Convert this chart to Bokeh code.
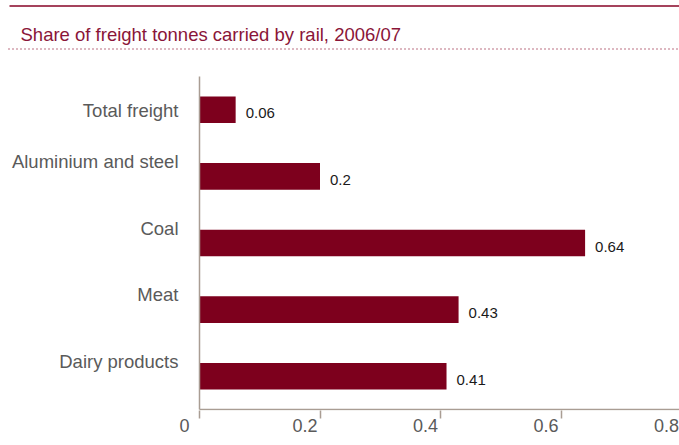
from bokeh.plotting import figure
from bokeh.models import Range1d, ColumnDataSource, FixedTicker, LinearAxis
from bokeh.core.properties import value
from bokeh.embed import file_html
from bokeh.resources import INLINE

# ---- data ----
title_text = "Share of freight tonnes carried by rail, 2006/07"
categories = ["Total freight", "Aluminium and steel", "Coal", "Meat", "Dairy products"]
shares = [0.06, 0.2, 0.64, 0.43, 0.41]
share_labels = ["0.06", "0.2", "0.64", "0.43", "0.41"]
tick_values = [0, 0.2, 0.4, 0.6, 0.8]
tick_labels = ["0", "0.2", "0.4", "0.6", "0.8"]

# ---- styles / layout constants ----
BAR = "#7d001d"
TITLE_C = "#8a1538"
RULE_C = "#a5435c"
AXIS_C = "#a99d93"
GREY = "#5a5a5a"
FONT = "Liberation Sans"
W, H = 679, 445
FRAME_H = 410            # frame height in px (bottom border holds x-axis)
PLOT_LEFT = 199          # px where x = 0
PX_PER_X = 602.5         # px per unit of share
CHART_TOP = 76           # px where the category band starts
BASE_Y = 409             # px of the x baseline
cat_label_dy = [1, -15, -15, -15, -15]   # px nudges of category labels
LABEL_SHIFT = 15         # px tick labels sit left of their ticks

n = len(categories)
x_start = -PLOT_LEFT / PX_PER_X
x_end = x_start + W / PX_PER_X
band = (BASE_Y - CHART_TOP) / n
y_start = -(FRAME_H - BASE_Y) / band
y_end = n + CHART_TOP / band

ypos = [n - k - 0.5 for k in range(n)]
src = ColumnDataSource(dict(y=ypos, cat=categories, share=shares, lab=share_labels,
                            zero=[0] * n, dy=cat_label_dy))

p = figure(width=W, height=H, x_range=Range1d(x_start, x_end), y_range=Range1d(y_start, y_end),
           y_axis_location=None, toolbar_location=None, output_backend="svg",
           min_border_left=0, min_border_right=0, min_border_top=0, min_border_bottom=H - FRAME_H)
p.outline_line_color = None
p.xgrid.visible = False
p.ygrid.visible = False

# pixel-space ranges for the header decoration
p.extra_x_ranges = {"px": Range1d(0, W),
                    "lab": Range1d(x_start + LABEL_SHIFT / PX_PER_X, x_end + LABEL_SHIFT / PX_PER_X)}
p.extra_y_ranges = {"px": Range1d(FRAME_H, 0)}

# header
p.segment(x0=[9], y0=[5.5], x1=[W], y1=[5.5], line_color=RULE_C, line_width=2,
          x_range_name="px", y_range_name="px")
p.text(x=[20], y=[33.5], text=[title_text], text_font=value(FONT), text_font_size="18.5px",
       text_color=TITLE_C, text_baseline="alphabetic", text_align="left",
       x_range_name="px", y_range_name="px")
p.segment(x0=[8], y0=[48.5], x1=[W], y1=[48.5], line_color=RULE_C, line_width=1.5,
          line_dash="1 3", x_range_name="px", y_range_name="px")

# bars
p.hbar(y="y", right="share", left=0, height=0.4, source=src, fill_color=BAR, line_color=None)

# axis lines
p.segment(x0=[0], y0=[0], x1=[0], y1=[n], line_color=AXIS_C, line_width=1.5)
p.segment(x0=[0], y0=[0], x1=[x_end], y1=[0], line_color=AXIS_C, line_width=1.5)

# x axis ticks
xa = p.xaxis[0]
xa.ticker = FixedTicker(ticks=tick_values)
xa.major_label_overrides = {v: "" for v in tick_values}
xa.axis_line_color = None
xa.major_tick_line_color = AXIS_C
xa.major_tick_line_width = 1.5
xa.major_tick_out = 8
xa.major_tick_in = 0
xa.minor_tick_line_color = None
xa.major_label_text_font_size = "1px"
xa.major_label_standoff = 0

# x axis labels (slightly left of the ticks, as in the original)
xl = LinearAxis(x_range_name="lab", ticker=FixedTicker(ticks=tick_values))
xl.major_label_overrides = dict(zip(tick_values, tick_labels))
xl.axis_line_color = None
xl.major_tick_line_color = None
xl.minor_tick_line_color = None
xl.major_tick_out = 0
xl.major_tick_in = 0
xl.major_label_standoff = 0
xl.major_label_text_font = FONT
xl.major_label_text_font_size = "18px"
xl.major_label_text_color = GREY
p.add_layout(xl, "below")

# category labels
p.text(x="zero", y="y", text="cat", source=src, x_offset=-21, y_offset="dy",
       text_align="right", text_baseline="middle", text_font=value(FONT),
       text_font_size="18.5px", text_color=GREY)
# value labels
p.text(x="share", y="y", text="lab", source=src, x_offset=10, y_offset=3.5,
       text_align="left", text_baseline="middle", text_font=value(FONT),
       text_font_size="15px", text_color="#1a1a1a")

open("out.html", "w").write(file_html(p, INLINE))
